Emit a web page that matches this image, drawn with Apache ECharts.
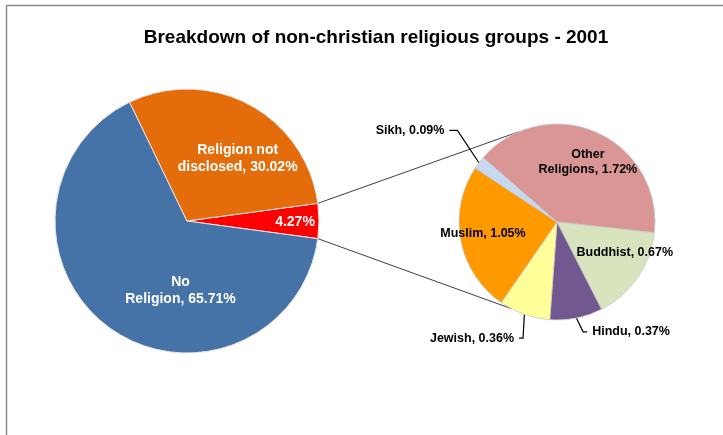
<!DOCTYPE html>
<html>
<head>
<meta charset="utf-8">
<script src="https://cdn.jsdelivr.net/npm/echarts@6/dist/echarts.min.js"></script>
<style>
  html, body { margin: 0; padding: 0; background: #fff; }
  #chart { width: 723px; height: 435px; }
</style>
</head>
<body>
<div id="chart"></div>
<script>
// Main pie: share of each group (percent)
const mainCategories = ['Other religions', 'No Religion', 'Religion not disclosed'];
const mainValues = [4.27, 65.71, 30.02];

// Secondary pie: breakdown of the 4.27% slice (percent)
const detailCategories = ['Other Religions', 'Buddhist', 'Hindu', 'Jewish', 'Muslim', 'Sikh'];
const detailValues = [1.72, 0.67, 0.37, 0.36, 1.05, 0.09];

const titleText = 'Breakdown of non-christian religious groups - 2001';

// Layout of the two pies
const MAIN = { cx: 187, cy: 221, r: 132 };
const DETAIL = { cx: 557, cy: 222, r: 98 };
const FONT = '"Liberation Sans", Arial, sans-serif';

// Where a label wraps onto a second line
const wrapAt = {
  'No Religion': 'No\nReligion',
  'Religion not disclosed': 'Religion not\ndisclosed',
  'Other Religions': 'Other\nReligions'
};
const fmt = (p) => (p.dataIndex === 0 && p.seriesIndex === 0)
  ? p.value.toFixed(2) + '%'
  : (wrapAt[p.name] || p.name) + ', ' + p.value.toFixed(2) + '%';

const mainColors = ['#FF0000', '#4572A7', '#E46C0A'];
const detailColors = ['#D99694', '#D7E4BD', '#71588F', '#FFFF99', '#FF9900', '#C6D9F1'];

// The highlighted slice is centred on the 3 o'clock direction
const mainStart = mainValues[0] / 100 * 360 / 2;
const detailStart = 139;

// inside-label nudges and outside-label leader settings
const mainOffsets = [[39, 1], [34, 14], [18, -2]];
const detailLabel = {
  'Other Religions': { position: 'inside', offset: [10, -12] },
  'Buddhist': { position: 'inside', offset: [25, 1] },
  'Muslim': { position: 'inside', offset: [-23, 2] },
  'Hindu': { position: 'outside', length: 14, length2: 4 },
  'Jewish': { position: 'outside', length: 22, length2: 4 },
  'Sikh': { position: 'outside', length: 22, length2: 8 }
};
// shift of the elbow (and the label with it) for the outside labels
const leaderShift = {
  'Sikh': { dx: -4, dy: -19 },
  'Jewish': { dx: 6, dy: 3 },
  'Hindu': { dx: 4, dy: 0 }
};

const mainData = mainCategories.map((name, i) => ({
  name, value: mainValues[i],
  itemStyle: { color: mainColors[i] },
  label: { offset: mainOffsets[i] }
}));

const detailData = detailCategories.map((name, i) => {
  const cfg = detailLabel[name];
  const item = { name, value: detailValues[i], itemStyle: { color: detailColors[i] } };
  if (cfg.position === 'inside') {
    item.label = { position: 'inside', offset: cfg.offset };
    item.labelLine = { show: false };
  } else {
    item.label = { position: 'outside' };
    item.labelLine = { show: true, length: cfg.length, length2: cfg.length2,
      lineStyle: { color: '#000', width: 1.2 } };
  }
  return item;
});

// Connector lines from the edges of the highlighted slice to the secondary pie
function polar(c, deg) {
  const a = deg * Math.PI / 180;
  return [c.cx + c.r * Math.cos(a), c.cy - c.r * Math.sin(a)];
}
const connectors = [
  [polar(MAIN, mainStart), polar(DETAIL, 113)],
  [polar(MAIN, -mainStart), polar(DETAIL, -118)]
].map(([a, b]) => ({
  type: 'line', z: 0,
  shape: { x1: a[0], y1: a[1], x2: b[0], y2: b[1] },
  style: { stroke: '#404040', lineWidth: 1 }
}));

const chart = echarts.init(document.getElementById('chart'), null, { renderer: 'canvas' });
chart.setOption({
  animation: false,
  backgroundColor: '#fff',
  title: {
    text: titleText, left: 371, textAlign: 'center', top: 23,
    textStyle: { fontFamily: FONT, fontSize: 19, fontWeight: 'bold', color: '#000' }
  },
  graphic: [
    { type: 'rect', z: -1, shape: { x: 6.5, y: 5.5, width: 800, height: 500 },
      style: { fill: 'none', stroke: '#8c8c8c', lineWidth: 1.5 } },
    ...connectors
  ],
  series: [
    {
      type: 'pie', z: 2,
      center: [MAIN.cx, MAIN.cy], radius: MAIN.r,
      startAngle: mainStart, clockwise: true,
      avoidLabelOverlap: false,
      itemStyle: { borderColor: '#e6e6e6', borderWidth: 1 },
      label: {
        show: true, position: 'inside', formatter: fmt,
        color: '#fff', fontFamily: FONT, fontSize: 14, fontWeight: 'bold', lineHeight: 17
      },
      labelLine: { show: false },
      emphasis: { disabled: true },
      data: mainData
    },
    {
      type: 'pie', z: 2,
      center: [DETAIL.cx, DETAIL.cy], radius: DETAIL.r,
      startAngle: detailStart, clockwise: true,
      avoidLabelOverlap: false,
      itemStyle: { borderColor: '#c8c8c8', borderWidth: 0.8 },
      label: {
        show: true, formatter: fmt,
        color: '#000', fontFamily: FONT, fontSize: 12.5, fontWeight: 'bold', lineHeight: 15
      },
      labelLayout: (p) => {
        const s = leaderShift[detailCategories[p.dataIndex]];
        if (!s) return {};
        const out = { dx: s.dx, dy: s.dy };
        if (p.labelLinePoints) {
          const pts = p.labelLinePoints.map(q => q.slice());
          pts[1][0] += s.dx; pts[1][1] += s.dy;
          pts[2][0] += s.dx; pts[2][1] += s.dy;
          out.labelLinePoints = pts;
        }
        return out;
      },
      emphasis: { disabled: true },
      data: detailData
    }
  ]
});
</script>
</body>
</html>
